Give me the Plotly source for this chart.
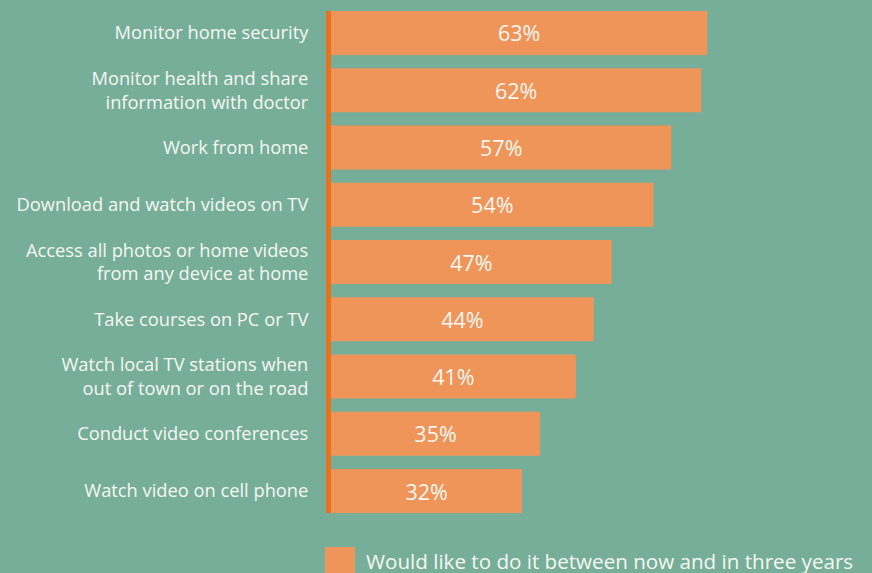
import plotly.graph_objects as go

# Activities, top to bottom, with the share of respondents (%)
activities = [
    "Monitor home security",
    "Monitor health and share<br>information with doctor",
    "Work from home",
    "Download and watch videos on TV",
    "Access all photos or home videos<br>from any device at home",
    "Take courses on PC or TV",
    "Watch local TV stations when<br>out of town or on the road",
    "Conduct video conferences",
    "Watch video on cell phone",
]
shares = [63, 62, 57, 54, 47, 44, 41, 35, 32]
series_name = "Would like to do it between now and in three years"

BG = "#76ae99"
BAR = "#f0955a"
AXIS = "#e8731e"
TEXT = "#f7f8f2"
FONT = "Open Sans"

W, H = 872, 573
L, R, T, B = 331, 0, 11, 60
plot_w = W - L - R
plot_h = H - T - B
px_per_unit = 5.973
bar_frac = 0.768
n = len(activities)
half = bar_frac / 2

fig = go.Figure(
    go.Bar(
        x=shares,
        y=list(range(n)),
        orientation="h",
        width=bar_frac,
        marker=dict(color=BAR, line=dict(width=0)),
        text=[f"{v}%" for v in shares],
        textposition="inside",
        insidetextanchor="middle",
        textfont=dict(family=FONT, size=21.5, color=TEXT),
        name=series_name,
        showlegend=False,
        hoverinfo="skip",
    )
)


def px_x(p):
    return (p - L) / plot_w


def px_y(p):
    return (H - B - p) / plot_h


# legend swatch and label
fig.add_shape(
    type="rect", xref="paper", yref="paper",
    x0=px_x(325), x1=px_x(355), y0=px_y(547), y1=px_y(580),
    fillcolor=BAR, line=dict(width=0), layer="above",
)
fig.add_annotation(
    xref="paper", yref="paper", x=px_x(364), y=px_y(561),
    xanchor="left", yanchor="middle", showarrow=False,
    text=series_name, font=dict(family=FONT, size=20.6, color=TEXT),
)

fig.update_layout(
    width=W, height=H,
    margin=dict(l=L, r=R, t=T, b=B, pad=0),
    paper_bgcolor=BG, plot_bgcolor=BG,
    xaxis=dict(range=[0, plot_w / px_per_unit], visible=False, fixedrange=True),
    yaxis=dict(
        range=[n - 1 + half, -half],
        tickmode="array",
        tickvals=list(range(n)),
        ticktext=activities,
        tickfont=dict(family=FONT, size=18.3, color=TEXT),
        ticks="",
        ticklabelstandoff=14,
        showline=True, linecolor=AXIS, linewidth=5,
        showgrid=False, zeroline=False, fixedrange=True,
    ),
    font=dict(family=FONT, color=TEXT),
)

fig.write_html("out.html")
